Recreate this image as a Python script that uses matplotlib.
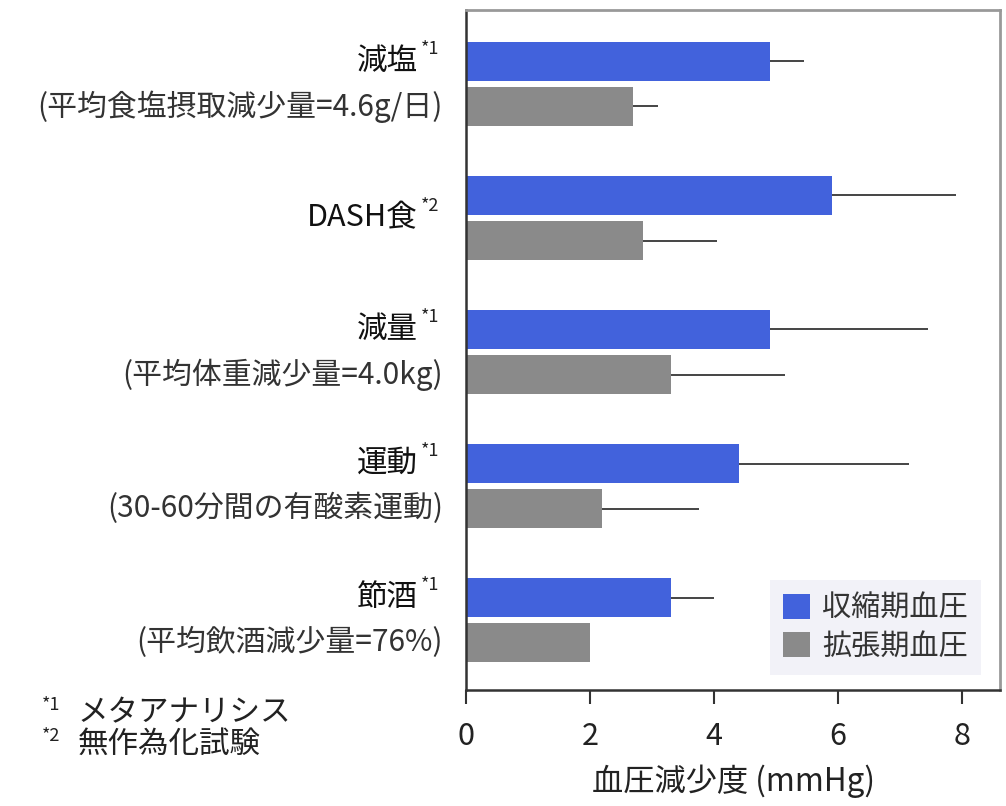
import matplotlib
matplotlib.use('Agg')
import matplotlib.pyplot as plt
from matplotlib.transforms import blended_transform_factory
import numpy as np

plt.rcParams['font.family'] = ['Noto Sans CJK JP', 'DejaVu Sans']

# data
labels = ['減塩', 'DASH食', '減量', '運動', '節酒']
notes = ['*1', '*2', '*1', '*1', '*1']
sublabels = ['(平均食塩摂取減少量=4.6g/日)', '', '(平均体重減少量=4.0kg)',
             '(30-60分間の有酸素運動)', '(平均飲酒減少量=76%)']
systolic = [4.9, 5.9, 4.9, 4.4, 3.3]
systolic_err = [0.55, 2.0, 2.55, 2.75, 0.7]
diastolic = [2.7, 2.85, 3.3, 2.2, 2.0]
diastolic_err = [0.4, 1.2, 1.85, 1.55, 0.0]
series_names = ['収縮期血圧', '拡張期血圧']
footnotes = [('*1', 'メタアナリシス'), ('*2', '無作為化試験')]

blue = '#4262dc'
gray = '#8a8a8a'
W, H = 1006, 806

fig = plt.figure(figsize=(W / 100, H / 100), dpi=100)
ax = fig.add_axes([466 / W, 1 - 690 / H, 534 / W, 680 / H])

y = np.arange(len(labels))
off = 0.168
h = 0.29
ax.barh(y - off, systolic, height=h, color=blue, label=series_names[0],
        xerr=[np.zeros(len(y)), systolic_err],
        error_kw=dict(ecolor='#444444', elinewidth=1.4, capsize=0))
ax.barh(y + off, diastolic, height=h, color=gray, label=series_names[1],
        xerr=[np.zeros(len(y)), diastolic_err],
        error_kw=dict(ecolor='#444444', elinewidth=1.4, capsize=0))

ax.set_ylim(4.522, -0.552)
ax.set_xlim(0, 8.61)
ax.set_yticks([])
ax.set_xticks([0, 2, 4, 6, 8])
ax.tick_params(axis='x', labelsize=22, length=10, width=1.5, color='#333333',
               labelcolor='#222222', pad=12)
for side in ['top', 'right']:
    ax.spines[side].set_color('#999999')
    ax.spines[side].set_linewidth(2)
for side in ['left', 'bottom']:
    ax.spines[side].set_color('#333333')
    ax.spines[side].set_linewidth(1.8)

ax.set_xlabel('血圧減少度 (mmHg)', fontsize=22.5, color='#222222', labelpad=9)

# category labels on the left
tr = blended_transform_factory(fig.transFigure, ax.transData)
for i, name in enumerate(labels):
    yy = i - off if sublabels[i] else i
    ax.text(418 / W, yy, name, transform=tr, ha='right', va='center',
            fontsize=22, color='#111111')
    ax.text(421 / W, yy - 0.09, notes[i], transform=tr, ha='left',
            va='center', fontsize=13, color='#222222')
    if sublabels[i]:
        ax.text(443 / W, i + off, sublabels[i], transform=tr, ha='right',
                va='center', fontsize=21.5, color='#333333')

# footnotes
for k, (mark, txt) in enumerate(footnotes):
    py = 713 + 31 * k
    fig.text(42 / W, 1 - (py - 8) / H, mark, ha='left', va='center',
             fontsize=13, color='#222222')
    fig.text(78 / W, 1 - py / H, txt, ha='left', va='center',
             fontsize=22, color='#222222')

leg = ax.legend(loc='lower right', bbox_to_anchor=(0.964, 0.022), fontsize=21,
                handlelength=0.95, handleheight=0.95, handletextpad=0.4,
                labelspacing=0.3, borderpad=0.45, borderaxespad=0,
                fancybox=False, facecolor='#f2f2f8', edgecolor='none',
                framealpha=1)
for t in leg.get_texts():
    t.set_color('#333333')

fig.savefig('out.png', dpi=100)
